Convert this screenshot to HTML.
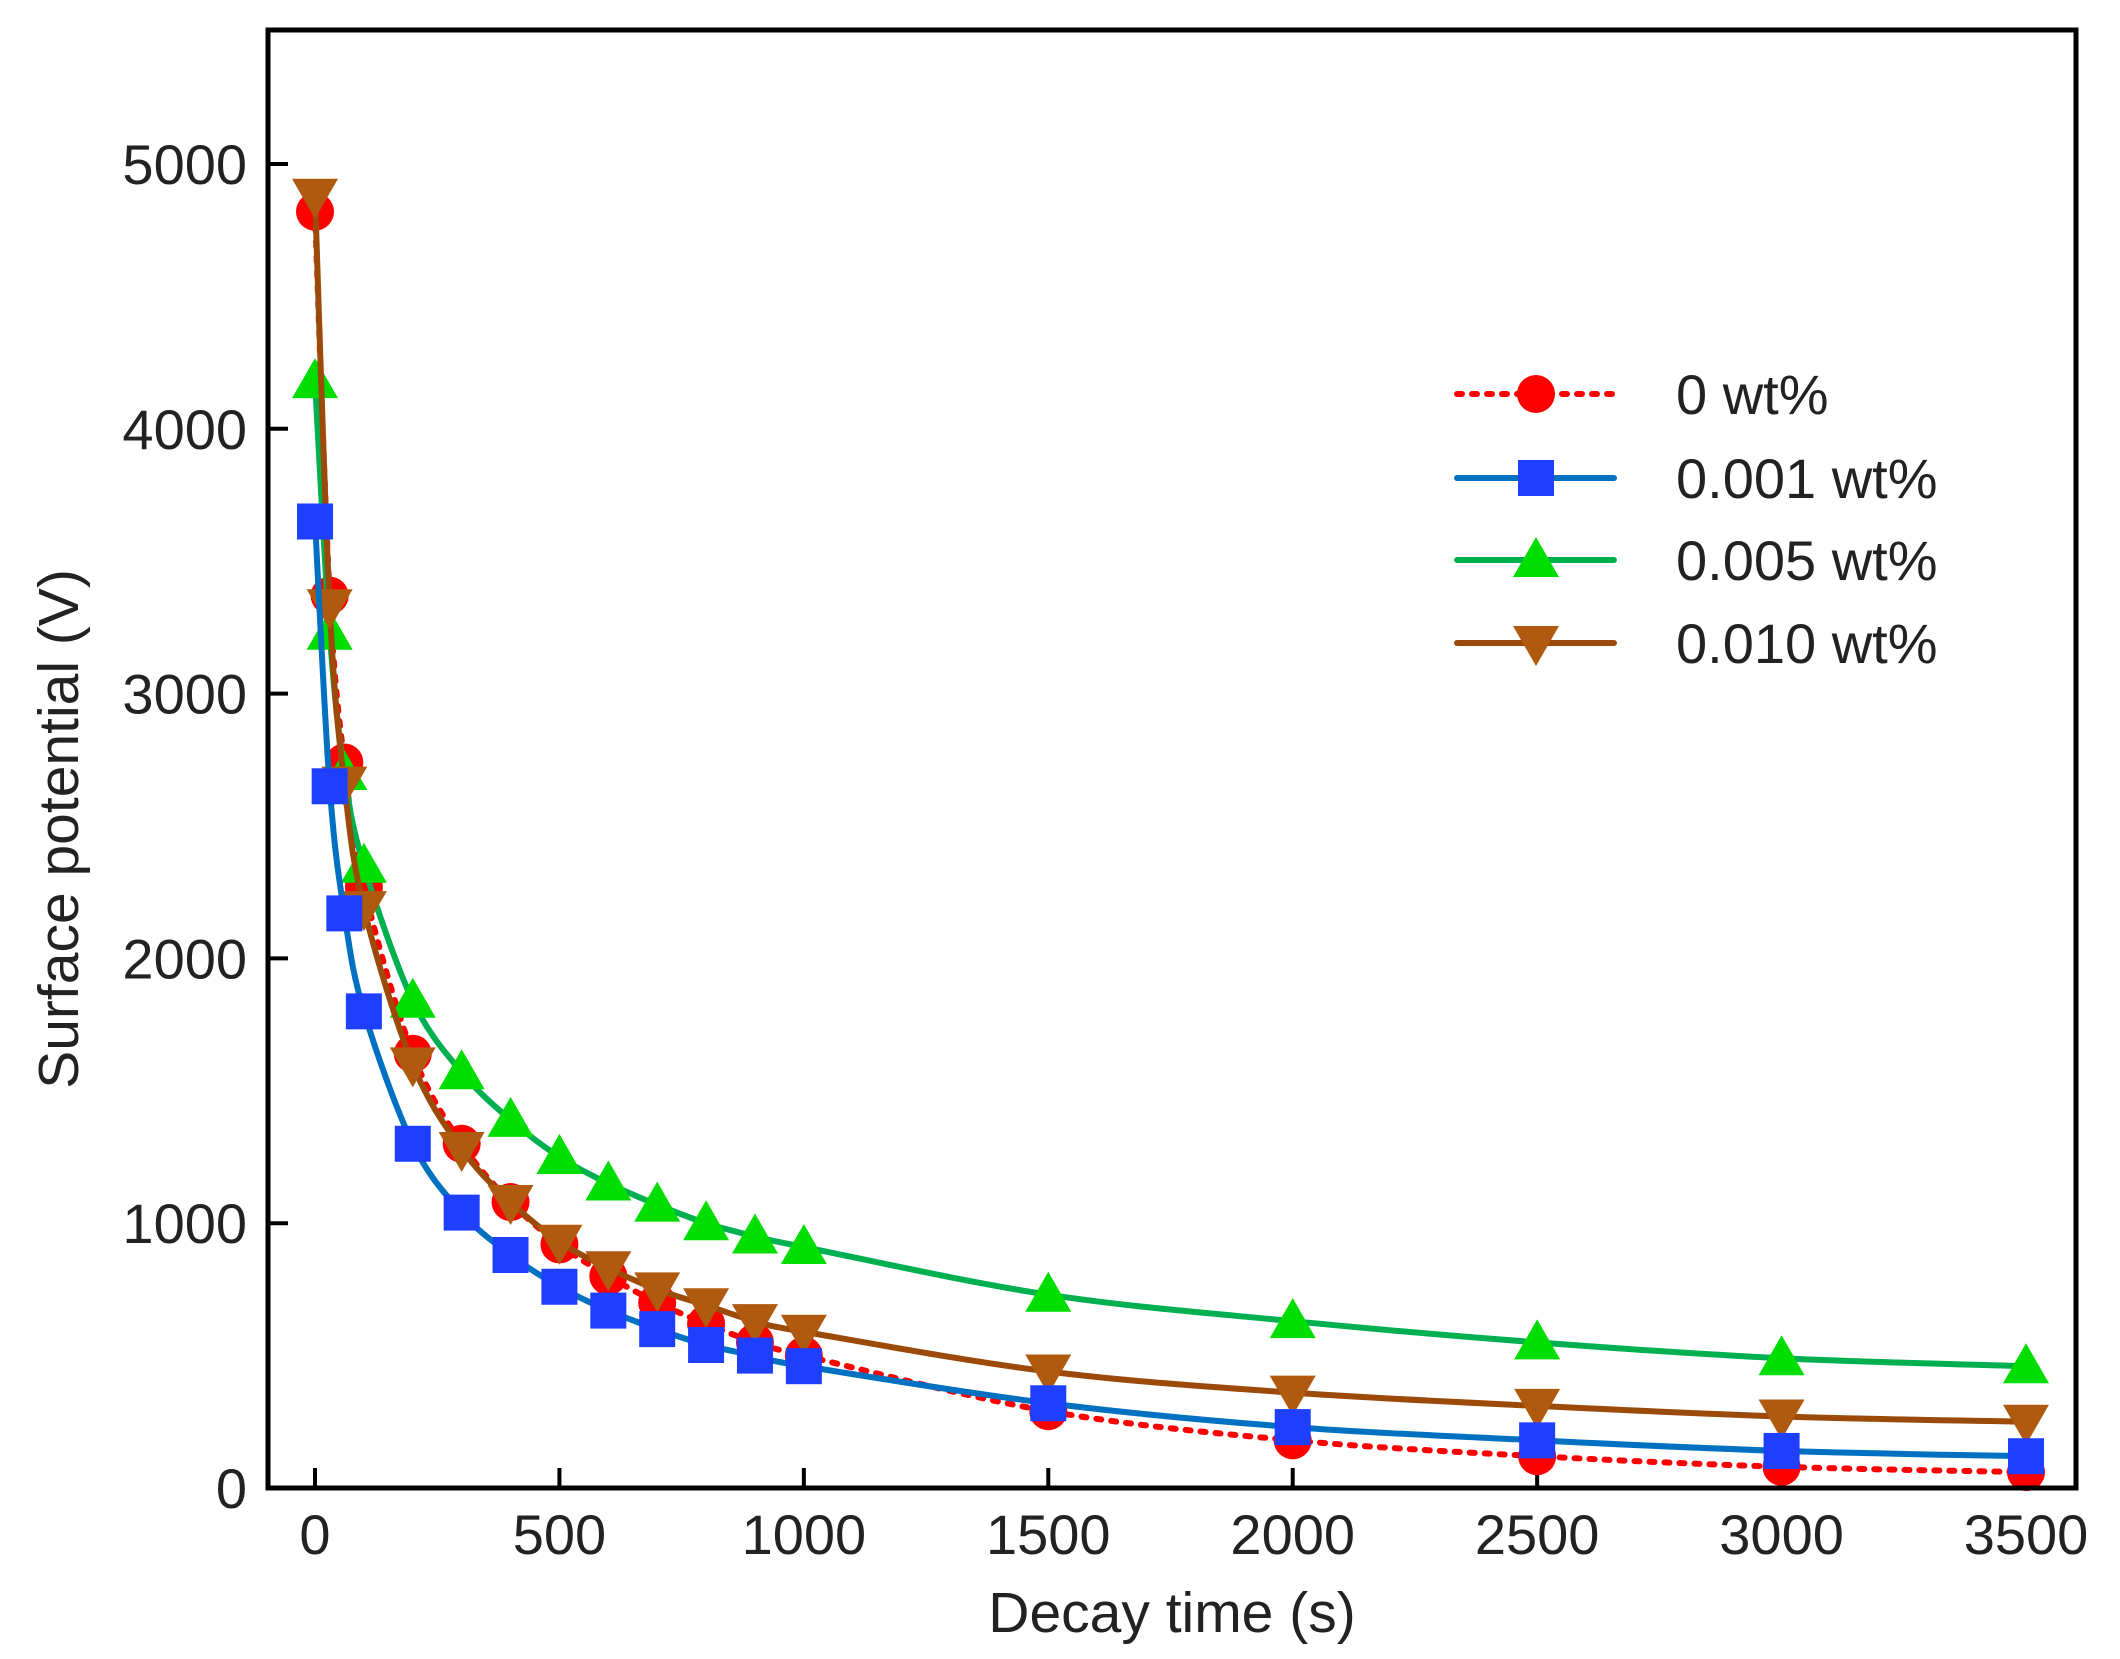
<!DOCTYPE html>
<html><head><meta charset="utf-8"><style>
html,body{margin:0;padding:0;background:#fff}
svg{display:block}
text{font-family:"Liberation Sans",Arial,sans-serif;fill:#222}
</style></head><body>
<svg id="chart" width="2120" height="1659" viewBox="0 0 2120 1659" xmlns="http://www.w3.org/2000/svg">
<g id="plot"></g>
</svg>
<script>
const times = [0,30,60,100,200,300,400,500,600,700,800,900,1000,1500,2000,2500,3000,3500];
const s0 = [4820,3370,2740,2270,1640,1300,1080,920,800,700,620,550,500,290,180,120,80,60];
const s001 = [3650,2650,2170,1800,1300,1040,880,760,670,600,540,500,460,320,230,180,140,120];
const s005 = [4180,3230,2700,2350,1840,1570,1390,1250,1150,1070,1000,950,910,730,630,550,490,460];
const s010 = [4880,3330,2660,2190,1600,1280,1080,930,830,750,690,630,590,440,360,310,270,250];
const xTicks = [0,500,1000,1500,2000,2500,3000,3500];
const yTicks = [0,1000,2000,3000,4000,5000];
const seriesNames = ["0 wt%","0.001 wt%","0.005 wt%","0.010 wt%"];

const NS="http://www.w3.org/2000/svg";
const g=document.getElementById('plot');
const L=268,R=2076,T=30,B=1488;
const X0=315,X1=2026;
const Y5=164;
function xs(v){return X0+(v/3500)*(X1-X0);}
function ys(v){return B-(v/5000)*(B-Y5);}
function mk(tag,attrs,parent){const e=document.createElementNS(NS,tag);for(const k in attrs)e.setAttribute(k,attrs[k]);(parent||g).appendChild(e);return e;}

xTicks.forEach(t=>{
  const l=mk('line',{x1:xs(t),x2:xs(t),y1:B,y2:B-20,stroke:'#000','stroke-width':4});
  
  
  const tx=mk('text',{x:xs(t),y:B+66,'text-anchor':'middle','font-size':56});
  tx.textContent=t;
  
  
});
yTicks.forEach(t=>{
  const l=mk('line',{x1:L,x2:L+20,y1:ys(t),y2:ys(t),stroke:'#000','stroke-width':4});
  
  
  const tx=mk('text',{x:247,y:ys(t)+20,'text-anchor':'end','font-size':56});
  tx.textContent=t;
  
  
});

function smooth(xsArr,ysArr){
  const p=xsArr.map((x,i)=>[xs(x),ys(ysArr[i])]);
  let d='M'+p[0][0]+','+p[0][1];
  for(let i=0;i<p.length-1;i++){
    const p0=p[Math.max(0,i-1)],p1=p[i],p2=p[i+1],p3=p[Math.min(p.length-1,i+2)];
    const c1=[p1[0]+(p2[0]-p0[0])/6,p1[1]+(p2[1]-p0[1])/6];
    const c2=[p2[0]-(p3[0]-p1[0])/6,p2[1]-(p3[1]-p1[1])/6];
    d+=' C'+c1[0]+','+c1[1]+' '+c2[0]+','+c2[1]+' '+p2[0]+','+p2[1];
  }
  return d;
}
function marker(type,cx,cy,fill,parent){
  let e;
  if(type==='circle') e=mk('circle',{cx:cx,cy:cy,r:19,fill:fill},parent);
  else if(type==='square') e=mk('rect',{x:cx-18,y:cy-18,width:36,height:36,fill:fill},parent);
  else if(type==='up') e=mk('polygon',{points:`${cx},${cy-23} ${cx-23},${cy+17} ${cx+23},${cy+17}`,fill:fill},parent);
  else e=mk('polygon',{points:`${cx},${cy+23} ${cx-23},${cy-17} ${cx+23},${cy-17}`,fill:fill},parent);
  return e;
}
const defs=[
  {data:s0,line:'#ff0000',mark:'#ff0000',type:'circle',dash:'5,10',key:'0wt'},
  {data:s001,line:'#0070c0',mark:'#1f3fff',type:'square',dash:null,key:'0001wt'},
  {data:s005,line:'#00b050',mark:'#00dd00',type:'up',dash:null,key:'0005wt'},
  {data:s010,line:'#9c4a0a',mark:'#b05a10',type:'down',dash:null,key:'0010wt'}
];
const order=[0,2,3,1];
order.forEach(i=>{
  const s=defs[i];
  const grp=mk('g',{});
  
  
  const path=mk('path',{d:smooth(times,s.data),fill:'none',stroke:s.line,'stroke-width':6,'stroke-linecap':'round'},grp);
  if(s.dash) path.setAttribute('stroke-dasharray',s.dash);
  
  
  times.forEach((t,j)=>{
    const m=marker(s.type,xs(t),ys(s.data[j]),s.mark,grp);
    
    
  });
});

const fr=mk('rect',{x:L,y:T,width:R-L,height:B-T,fill:'none',stroke:'#000','stroke-width':5});



const legYs=[394,478,560,643];
defs.forEach((s,i)=>{
  const lg=mk('g',{});
  
  
  const y=legYs[i];
  const ln=mk('line',{x1:1457,x2:1614,y1:y,y2:y,stroke:s.line,'stroke-width':6,'stroke-linecap':'round'},lg);
  if(s.dash) ln.setAttribute('stroke-dasharray',s.dash);
  marker(s.type,1536,y,s.mark,lg);
  const tx=mk('text',{x:1676,y:y+20,'font-size':56},lg);
  tx.textContent=seriesNames[i];
});

const xt=mk('text',{x:(L+R)/2,y:1632,'text-anchor':'middle','font-size':57});
xt.textContent='Decay time (s)';


const yt=mk('text',{x:0,y:0,'text-anchor':'middle','font-size':57,transform:`translate(78,${(T+B)/2+70}) rotate(-90)`});
yt.textContent='Surface potential (V)';


</script>
</body></html>
